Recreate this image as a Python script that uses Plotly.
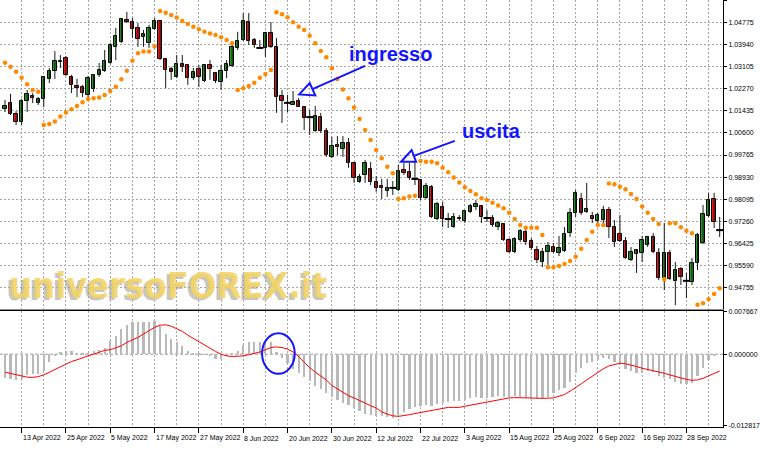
import plotly.graph_objects as go
import pandas as pd
import numpy as np

# ---------------- data ----------------
opens = [1.0151,1.0173,1.0132,1.0101,1.0181,1.0200,1.0173,1.0189,1.0264,1.0295,
         1.0330,1.0344,1.0272,1.0238,1.0234,1.0204,1.0227,1.0280,1.0295,1.0325,
         1.0386,1.0405,1.0488,1.0480,1.0458,1.0424,1.0401,1.0454,1.0484,1.0340,
         1.0302,1.0272,1.0321,1.0317,1.0268,1.0302,1.0257,1.0317,1.0287,1.0253,
         1.0295,1.0314,1.0382,1.0412,1.0480,1.0412,1.0382,1.0382,1.0439,1.0386,
         1.0200,1.0174,1.0166,1.0181,1.0158,1.0120,1.0067,1.0120,1.0067,0.9969,
         1.0014,0.9999,1.0022,0.9947,0.9875,0.9901,0.9924,0.9875,0.9859,0.9840,
         0.9852,0.9844,0.9920,0.9912,0.9886,0.9882,0.9814,0.9855,0.9734,0.9780,
         0.9734,0.9704,0.9738,0.9727,0.9761,0.9780,0.9784,0.9738,0.9738,0.9704,
         0.9715,0.9654,0.9609,0.9654,0.9684,0.9651,0.9617,0.9571,0.9609,0.9628,
         0.9605,0.9613,0.9681,0.9757,0.9810,0.9761,0.9746,0.9727,0.9730,0.9768,
         0.9704,0.9677,0.9651,0.9579,0.9602,0.9605,0.9636,0.9666,0.9605,0.9511,
         0.9605,0.9499,0.9545,0.9500,0.9496,0.9568,0.9643,0.9746,0.9810,0.9692]
highs = [1.0185,1.0208,1.0143,1.0189,1.0223,1.0211,1.0196,1.0276,1.0306,1.0370,
         1.0355,1.0351,1.0280,1.0265,1.0242,1.0276,1.0283,1.0325,1.0374,1.0401,
         1.0458,1.0495,1.0518,1.0495,1.0476,1.0450,1.0469,1.0495,1.0488,1.0344,
         1.0310,1.0355,1.0355,1.0317,1.0306,1.0317,1.0317,1.0336,1.0291,1.0317,
         1.0336,1.0401,1.0443,1.0514,1.0514,1.0420,1.0412,1.0443,1.0480,1.0420,
         1.0223,1.0204,1.0219,1.0192,1.0158,1.0147,1.0162,1.0136,1.0079,1.0045,
         1.0048,1.0048,1.0041,0.9950,0.9905,0.9958,0.9950,0.9897,0.9886,0.9886,
         0.9878,0.9939,0.9946,0.9946,0.9950,0.9886,0.9871,0.9863,0.9799,0.9799,
         0.9757,0.9757,0.9749,0.9768,0.9791,0.9806,0.9787,0.9768,0.9749,0.9727,
         0.9719,0.9662,0.9665,0.9696,0.9696,0.9662,0.9632,0.9624,0.9647,0.9643,
         0.9670,0.9704,0.9776,0.9844,0.9833,0.9871,0.9761,0.9757,0.9784,0.9780,
         0.9730,0.9749,0.9666,0.9628,0.9620,0.9670,0.9670,0.9681,0.9624,0.9719,
         0.9617,0.9571,0.9552,0.9530,0.9586,0.9681,0.9787,0.9833,0.9833,0.9742]
lows = [1.0139,1.0128,1.0090,1.0090,1.0139,1.0173,1.0166,1.0158,1.0249,1.0264,
        1.0306,1.0276,1.0211,1.0196,1.0196,1.0196,1.0215,1.0272,1.0291,1.0321,
        1.0336,1.0401,1.0476,1.0420,1.0386,1.0386,1.0382,1.0450,1.0336,1.0230,
        1.0261,1.0268,1.0291,1.0242,1.0261,1.0234,1.0253,1.0261,1.0249,1.0223,
        1.0268,1.0310,1.0374,1.0408,1.0393,1.0382,1.0378,1.0348,1.0382,1.0136,
        1.0098,1.0139,1.0166,1.0158,1.0071,1.0052,1.0064,1.0060,0.9969,0.9965,
        0.9976,0.9969,0.9928,0.9871,0.9871,0.9871,0.9863,0.9837,0.9810,0.9818,
        0.9825,0.9840,0.9901,0.9882,0.9863,0.9806,0.9810,0.9738,0.9730,0.9704,
        0.9700,0.9700,0.9727,0.9719,0.9757,0.9768,0.9719,0.9723,0.9704,0.9692,
        0.9651,0.9605,0.9605,0.9647,0.9636,0.9617,0.9567,0.9552,0.9560,0.9605,
        0.9594,0.9609,0.9666,0.9742,0.9749,0.9757,0.9719,0.9704,0.9711,0.9662,
        0.9628,0.9647,0.9583,0.9575,0.9530,0.9571,0.9628,0.9605,0.9503,0.9465,
        0.9503,0.9408,0.9484,0.9435,0.9484,0.9541,0.9639,0.9742,0.9700,0.9666]
closes = [1.0162,1.0132,1.0101,1.0181,1.0208,1.0192,1.0189,1.0272,1.0295,1.0332,
          1.0332,1.0280,1.0242,1.0230,1.0211,1.0268,1.0280,1.0299,1.0332,1.0393,
          1.0427,1.0492,1.0480,1.0454,1.0416,1.0435,1.0458,1.0484,1.0340,1.0298,
          1.0291,1.0321,1.0310,1.0268,1.0291,1.0272,1.0317,1.0302,1.0257,1.0295,
          1.0321,1.0386,1.0408,1.0484,1.0408,1.0393,1.0382,1.0439,1.0386,1.0196,
          1.0181,1.0174,1.0177,1.0158,1.0117,1.0120,1.0124,1.0067,0.9976,1.0010,
          1.0007,1.0022,0.9947,0.9890,0.9893,0.9946,0.9875,0.9852,0.9852,0.9852,
          0.9852,0.9916,0.9909,0.9890,0.9886,0.9814,0.9859,0.9742,0.9791,0.9734,
          0.9734,0.9742,0.9734,0.9765,0.9784,0.9791,0.9742,0.9738,0.9711,0.9719,
          0.9654,0.9609,0.9658,0.9688,0.9647,0.9624,0.9579,0.9609,0.9632,0.9609,
          0.9624,0.9677,0.9757,0.9833,0.9757,0.9772,0.9734,0.9749,0.9768,0.9704,
          0.9647,0.9651,0.9586,0.9609,0.9617,0.9654,0.9666,0.9609,0.9511,0.9605,
          0.9507,0.9541,0.9515,0.9500,0.9568,0.9673,0.9753,0.9806,0.9723,0.9692]
sar = [1.0326,1.0311,1.0292,1.0269,1.0244,1.0223,1.0216,1.0090,1.0094,1.0103,
       1.0122,1.0137,1.0150,1.0162,1.0176,1.0189,1.0191,1.0194,1.0204,1.0219,
       1.0235,1.0263,1.0296,1.0333,1.0362,1.0368,1.0368,1.0387,1.0522,1.0515,
       1.0507,1.0497,1.0484,1.0473,1.0462,1.0453,1.0443,1.0437,1.0431,1.0422,
       1.0412,1.0400,1.0223,1.0229,1.0238,1.0250,1.0269,1.0283,1.0298,1.0517,
       1.0510,1.0498,1.0479,1.0462,1.0450,1.0428,1.0400,1.0370,1.0347,1.0305,
       1.0264,1.0225,1.0191,1.0156,1.0113,1.0071,1.0033,0.9995,0.9964,0.9932,
       0.9907,0.9810,0.9813,0.9819,0.9822,0.9954,0.9951,0.9951,0.9945,0.9928,
       0.9911,0.9891,0.9872,0.9854,0.9840,0.9828,0.9813,0.9806,0.9796,0.9785,
       0.9775,0.9758,0.9734,0.9711,0.9701,0.9701,0.9701,0.9674,0.9551,0.9551,
       0.9556,0.9564,0.9575,0.9591,0.9621,0.9655,0.9686,0.9711,0.9711,0.9869,
       0.9866,0.9856,0.9847,0.9829,0.9810,0.9781,0.9758,0.9734,0.9715,0.9506,
       0.9718,0.9718,0.9703,0.9690,0.9680,0.9409,0.9415,0.9430,0.9450,0.9472]
macd_main = [-0.0042,-0.0045,-0.0046,-0.0044,-0.0038,-0.0036,-0.0036,-0.0030,-0.0014,-0.0003,
             0.0004,0.0006,0.0005,0.0003,0.0001,0.0002,0.0005,0.0008,0.0012,0.0023,
             0.0032,0.0045,0.0052,0.0057,0.0057,0.0057,0.0057,0.0060,0.0051,0.0036,
             0.0027,0.0021,0.0015,0.0006,0.0003,0.00005,-0.0001,-0.0003,-0.0009,-0.0008,
             -0.0004,0.0001,0.0006,0.0016,0.0021,0.0021,0.0021,0.0018,0.0022,0.0004,
             -0.0007,-0.0015,-0.0026,-0.0033,-0.0040,-0.0048,-0.0056,-0.0062,-0.0069,-0.0076,
             -0.0082,-0.0087,-0.0091,-0.0096,-0.0102,-0.0106,-0.0109,-0.0111,-0.0110,-0.0113,
             -0.0114,-0.0109,-0.0103,-0.0098,-0.0094,-0.0093,-0.0091,-0.0092,-0.0089,-0.0087,
             -0.0086,-0.0084,-0.0084,-0.0082,-0.0079,-0.0077,-0.0078,-0.0078,-0.0076,-0.0075,
             -0.0076,-0.0076,-0.0075,-0.0077,-0.0079,-0.0079,-0.0080,-0.0079,-0.0076,-0.0070,
             -0.0064,-0.0060,-0.0049,-0.0033,-0.0024,-0.0016,-0.0014,-0.0010,-0.0006,-0.0008,
             -0.0014,-0.0018,-0.0026,-0.0030,-0.0033,-0.0033,-0.0030,-0.0031,-0.0039,-0.0042,
             -0.0045,-0.0049,-0.0053,-0.0054,-0.0051,-0.0039,-0.0024,-0.0010,-0.00015,0.0]
macd_signal = [-0.0032,-0.0034,-0.0037,-0.0039,-0.0041,-0.00415,-0.0040,-0.0037,-0.0032,-0.0027,
               -0.0022,-0.0018,-0.0013,-0.0010,-0.0006,-0.0003,0.0000,0.0004,0.0007,0.0008,
               0.0011,0.0015,0.0021,0.0025,0.0030,0.0036,0.0042,0.0048,0.0052,0.00525,
               0.0050,0.0046,0.0041,0.0034,0.0028,0.0023,0.0016,0.0011,0.0005,0.0000,
               -0.0003,-0.0004,-0.0004,-0.0003,-0.0001,0.0001,0.0004,0.0008,0.0012,0.0013,
               0.0012,0.0009,0.0004,-0.0004,-0.0014,-0.0024,-0.0032,-0.0039,-0.0046,-0.0056,
               -0.0062,-0.0069,-0.0074,-0.0078,-0.0083,-0.0087,-0.0092,-0.0096,-0.0103,-0.0107,
               -0.0110,-0.0111,-0.0110,-0.0108,-0.0106,-0.0104,-0.0102,-0.0100,-0.0098,-0.0096,
               -0.0095,-0.0095,-0.0095,-0.0093,-0.0091,-0.0090,-0.0088,-0.0085,-0.0083,-0.0081,
               -0.0079,-0.0078,-0.00775,-0.00775,-0.00775,-0.0078,-0.00785,-0.0079,-0.0079,-0.0078,
               -0.0075,-0.0072,-0.0066,-0.0060,-0.0053,-0.0046,-0.0039,-0.0032,-0.0026,-0.0021,
               -0.0018,-0.0016,-0.0017,-0.0019,-0.0022,-0.0025,-0.0027,-0.0029,-0.0032,-0.0034,
               -0.0037,-0.0040,-0.0043,-0.0045,-0.00465,-0.0046,-0.0043,-0.0039,-0.0035,-0.0030]

price_tick_vals = [1.05610,1.04775,1.03940,1.03105,1.02270,1.01435,1.00600,0.99765,
                   0.98930,0.98095,0.97260,0.96425,0.95590,0.94755]
price_tick_text = ["1.05610","1.04775","1.03940","1.03105","1.02270","1.01435","1.00600",
                   "0.99765","0.98930","0.98095","0.97260","0.96425","0.95590","0.94755"]
macd_tick_vals = [0.007667, 0.0, -0.012817]
macd_tick_text = ["0.007667", "0.000000", "-0.012817"]
first_date = "2022-04-08"

# ---------------- build ----------------
n = len(opens)
idx = np.arange(n)
dates = pd.bdate_range(first_date, periods=n)
o = np.array(opens); c = np.array(closes); h = np.array(highs); l = np.array(lows)

grid_x = list(range(3, n, 4))
label_x = list(range(3, n, 8))
label_text = [f"{dates[i].day} {dates[i].strftime('%b %Y')}" for i in label_x]

fig = go.Figure()

wx, wy = [], []
for i in idx:
    wx += [i, i, None]
    wy += [l[i], h[i], None]
fig.add_trace(go.Scatter(x=wx, y=wy, mode="lines", line=dict(color="#1a1a1a", width=1),
                         hoverinfo="skip", showlegend=False, xaxis="x", yaxis="y"))

body_mask = o != c
up = c > o
colors = np.where(up, "#1f9b1f", "#f01010")
fig.add_trace(go.Bar(x=idx[body_mask], base=np.minimum(o, c)[body_mask],
                     y=np.abs(c - o)[body_mask], width=0.6,
                     marker=dict(color=list(colors[body_mask]), line=dict(color="#000000", width=1)),
                     showlegend=False, xaxis="x", yaxis="y"))
doji = ~body_mask
fig.add_trace(go.Scatter(x=idx[doji], y=c[doji], mode="markers",
                         marker=dict(symbol="line-ew", size=5, line=dict(color="#000000", width=2)),
                         showlegend=False, xaxis="x", yaxis="y"))

fig.add_trace(go.Scatter(x=idx, y=sar, mode="markers",
                         marker=dict(color="#ff8a00", size=4.5),
                         showlegend=False, xaxis="x", yaxis="y"))

fig.add_trace(go.Bar(x=idx, y=macd_main, width=0.4, marker=dict(color="#b9b9b9", line=dict(width=0)),
                     showlegend=False, xaxis="x2", yaxis="y2"))
fig.add_trace(go.Scatter(x=idx, y=macd_signal, mode="lines", line=dict(color="#ff0000", width=1),
                         showlegend=False, xaxis="x2", yaxis="y2"))

xr = [-0.9, 129.6]
grid_style = dict(showgrid=True, gridcolor="#a6a6a6", griddash="2px,2px", gridwidth=1)
tickfont = dict(family="Liberation Sans, Arial, sans-serif", size=7, color="#000000")

fig.update_layout(
    width=760, height=450,
    margin=dict(l=0, r=37, t=0, b=23, autoexpand=False),
    paper_bgcolor="#ffffff", plot_bgcolor="#ffffff",
    barmode="overlay", bargap=0,
    showlegend=False,
    xaxis=dict(domain=[0, 1], range=xr, anchor="y", tickmode="array", tickvals=grid_x,
               showticklabels=False, ticks="", zeroline=False, automargin=False,
               showline=True, linecolor="#8c8c8c", linewidth=2, **grid_style),
    yaxis=dict(domain=[0.27635, 1], range=[0.93933, 1.05635], side="right", anchor="x",
               tickmode="array", tickvals=price_tick_vals, ticktext=price_tick_text,
               ticks="outside", ticklen=3, tickcolor="#000000", tickfont=tickfont,
               automargin=False,
               showline=True, linecolor="#000000", linewidth=1, zeroline=False, **grid_style),
    xaxis2=dict(domain=[0, 1], range=xr, anchor="y2", tickmode="array", tickvals=grid_x,
                showticklabels=False, ticks="", zeroline=False, automargin=False,
                minor=dict(tickmode="array", tickvals=label_x, ticks="outside", ticklen=5,
                           tickcolor="#000000", showgrid=False),
                showline=True, linecolor="#000000", linewidth=1, mirror=True, **grid_style),
    yaxis2=dict(domain=[0, 0.27166], range=[-0.01300, 0.00772], side="right", anchor="x2",
                tickmode="array", tickvals=macd_tick_vals, ticktext=macd_tick_text,
                ticks="outside", ticklen=3, tickcolor="#000000", tickfont=tickfont,
                showgrid=False, zeroline=False, automargin=False,
                showline=True, linecolor="#000000", linewidth=1),
)

fig.add_shape(type="line", xref="x2", yref="y2", x0=xr[0], x1=xr[1], y0=0, y1=0,
              line=dict(color="#9a9a9a", width=1, dash="3px,2px"), layer="below")

annotations = []
for xi, t in zip(label_x, label_text):
    annotations.append(dict(x=xi, xref="x2", y=-0.026, yref="paper", text=t, showarrow=False,
                            xanchor="left", yanchor="middle", font=tickfont, xshift=-1))

wm_font = "Liberation Sans Narrow, DejaVu Sans Condensed, Arial Narrow, sans-serif"
wm_size = 36
annotations.append(dict(x=0.0, xref="paper", y=0.279, yref="paper", text="<b>universoFOREX.it</b>",
                        showarrow=False, xanchor="left", yanchor="bottom", xshift=4, yshift=-2,
                        font=dict(family=wm_font, size=wm_size, color="rgba(160,160,160,0.6)")))
annotations.append(dict(x=0.0, xref="paper", y=0.279, yref="paper", text="<b>universoFOREX.it</b>",
                        showarrow=False, xanchor="left", yanchor="bottom", xshift=7,
                        font=dict(family=wm_font, size=wm_size, color="rgba(245,212,100,0.9)")))

blue_font = dict(family="Liberation Sans, Arial, sans-serif", size=20, color="#1414ff")
annotations.append(dict(x=69.5, xref="x", y=1.0359, yref="y", text="<b>ingresso</b>",
                        showarrow=False, xanchor="center", yanchor="middle", font=blue_font))
annotations.append(dict(x=87.8, xref="x", y=1.0067, yref="y", text="<b>uscita</b>",
                        showarrow=False, xanchor="center", yanchor="middle", font=blue_font))
fig.update_layout(annotations=annotations)

blue = "#1414ff"
fig.add_shape(type="line", xref="x", yref="y", x0=65.0, y0=1.0314, x1=55.5, y1=1.0226,
              line=dict(color=blue, width=2))
fig.add_shape(type="path", xref="x", yref="y",
              path="M 53.1 1.0206 L 55.0 1.0249 L 56.0 1.0202 Z",
              line=dict(color=blue, width=2), fillcolor="rgba(0,0,0,0)")
fig.add_shape(type="line", xref="x", yref="y", x0=81.2, y0=1.0030, x1=73.8, y1=0.9973,
              line=dict(color=blue, width=2))
fig.add_shape(type="path", xref="x", yref="y",
              path="M 71.5 0.9951 L 73.4 0.9995 L 74.2 0.9951 Z",
              line=dict(color=blue, width=2), fillcolor="rgba(0,0,0,0)")
fig.add_shape(type="circle", xref="x2", yref="y2", x0=46.4, x1=52.3, y0=-0.0035, y1=0.00375,
              line=dict(color=blue, width=2))

fig.write_html("out.html", config={"displayModeBar": False},
               post_script="document.body.style.margin='0px';document.body.style.overflow='hidden';")
